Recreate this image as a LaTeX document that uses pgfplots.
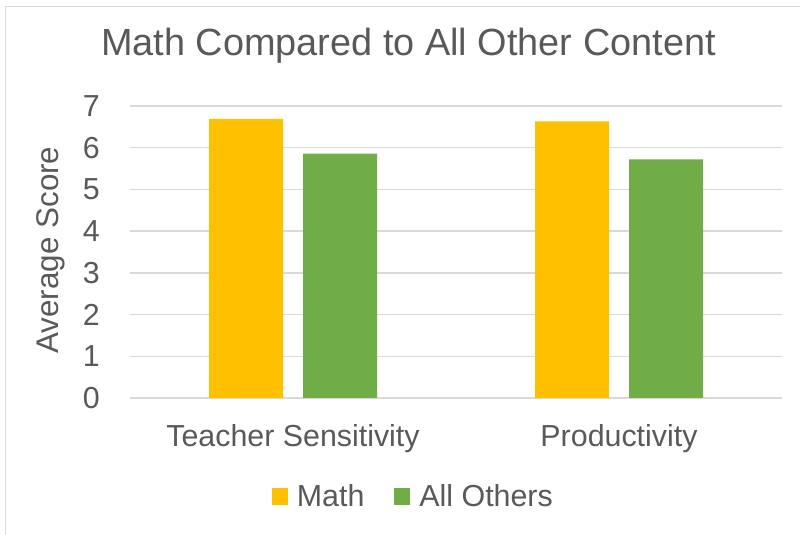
\documentclass[border=0pt]{standalone}
\usepackage{fontspec}
\setmainfont{Liberation Sans}
\usepackage{pgfplots}
\pgfplotsset{compat=1.18}

\definecolor{mathc}{HTML}{FFC000}
\definecolor{otherc}{HTML}{70AD47}
\definecolor{txt}{HTML}{595959}
\definecolor{gridc}{HTML}{D9D9D9}

\begin{document}
\begin{tikzpicture}
  % chart frame (only left and top edges are visible in the reference)
  \draw[gridc, line width=1.5bp] (5.5bp,0bp) -- (5.5bp,528.5bp) -- (800bp,528.5bp);
  \begin{axis}[
      at={(130bp,137bp)}, anchor=south west,
      scale only axis, width=652bp, height=292bp,
      ybar, bar width=74bp, ybar=20bp,
      xmin=-0.5, xmax=1.5, ymin=0, ymax=7,
      enlargelimits=false,
      xtick=data, xticklabels={Teacher Sensitivity, Productivity},
      ytick={0,1,...,7},
      major tick length=0pt,
      axis x line*=bottom, axis y line*=left,
      x axis line style={gridc, line width=1.3bp, -},
      y axis line style={draw=none},
      ymajorgrids, grid style={gridc, line width=1.3bp},
      font=\fontsize{30.5}{35}\selectfont,
      /pgf/number format/assume math mode=true,
      ticklabel style={text=txt},
      yticklabel style={anchor=east, inner sep=0pt, xshift=-30bp},
      xticklabel style={anchor=base, inner sep=0pt, yshift=-48bp},
      title={Math Compared to All Other Content},
      title style={at={(axis description cs:0.4272,1.1517)}, anchor=base,
                   inner sep=0pt, text=txt, font=\fontsize{38}{43}\selectfont},
      ylabel={Average Score},
      ylabel style={at={(axis description cs:-0.110,0.5068)}, anchor=base,
                    rotate=0, inner sep=0pt, text=txt, font=\fontsize{31.5}{36}\selectfont},
      legend columns=2,
      legend style={at={(axis description cs:0.2173,-0.3767)}, anchor=south west,
                    draw=none, fill=none, inner sep=0pt, text=txt,
                    nodes={inner sep=0pt},
                    /tikz/every odd column/.style={column sep=9bp},
                    /tikz/every even column/.style={column sep=30bp}},
      legend image code/.code={\fill[#1] (0bp,-9bp) rectangle (16bp,8bp);},
    ]
    \addplot[fill=mathc, draw=none] coordinates {(0,6.69) (1,6.63)};
    \addlegendentry{Math}
    \addplot[fill=otherc, draw=none] coordinates {(0,5.86) (1,5.72)};
    \addlegendentry{All Others}
  \end{axis}
  \pgfresetboundingbox
  \useasboundingbox (0bp,0bp) rectangle (800bp,535bp);
\end{tikzpicture}
\end{document}
